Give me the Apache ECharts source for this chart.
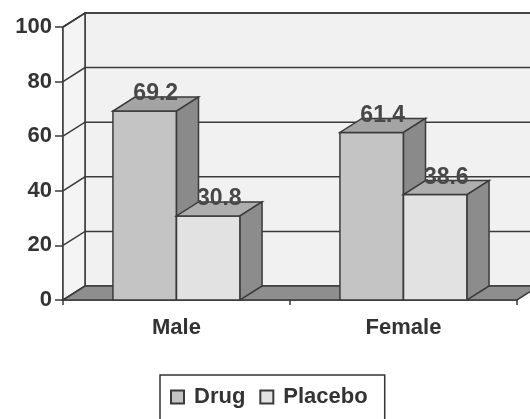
<!DOCTYPE html>
<html>
<head>
<meta charset="utf-8">
<script src="https://cdn.jsdelivr.net/npm/echarts@6/dist/echarts.min.js"></script>
<style>
  html, body { margin: 0; padding: 0; background: #fff; }
  #chart { width: 530px; height: 419px; }
</style>
</head>
<body>
<div id="chart"></div>
<script>
// data
var categories = ['Male', 'Female'];
var drugValues = [69.2, 61.4];
var placeboValues = [30.8, 38.6];
var yTicks = [0, 20, 40, 60, 80, 100];

// 3d depth of the walls and bars, pixels
var DX = 22, DY = -14;
var FONT = '"Liberation Sans", Arial, sans-serif';
var EDGE = '#3a3a3a';

var chart = echarts.init(document.getElementById('chart'));

// back wall, side wall, floor and grid lines
function renderWall(params, api) {
    var cs = params.coordSys;
    var left = cs.x, right = cs.x + cs.width;
    var y = api.coord([0, api.value(1)])[1];
    var children = [];
    if (params.dataIndex === 0) {
        var top = cs.y, bottom = cs.y + cs.height;
        children.push({
            type: 'polygon',
            shape: { points: [[left + DX, top + DY], [right + DX, top + DY], [right + DX, bottom + DY], [left + DX, bottom + DY]] },
            style: { fill: '#f1f1f1', stroke: EDGE, lineWidth: 1.5 }
        });
        children.push({
            type: 'polygon',
            shape: { points: [[left, top], [left + DX, top + DY], [left + DX, bottom + DY], [left, bottom]] },
            style: { fill: '#f4f4f4', stroke: EDGE, lineWidth: 1.5 }
        });
        children.push({
            type: 'polygon',
            shape: { points: [[left, bottom], [right, bottom], [right + DX, bottom + DY], [left + DX, bottom + DY]] },
            style: { fill: '#8e8e8e', stroke: EDGE, lineWidth: 1.5 }
        });
    } else {
        children.push({
            type: 'polyline',
            shape: { points: [[left, y], [left + DX, y + DY], [right + DX, y + DY]] },
            style: { fill: null, stroke: EDGE, lineWidth: 1.5 }
        });
    }
    return { type: 'group', children: children };
}

// one 3d bar: side = -1 left of the category centre, 0 right of it
function makeBarRenderer(side, front, topColor, sideColor) {
    return function (params, api) {
        var cat = api.value(0), val = api.value(1);
        var band = api.size([1, 0])[0];
        var w = band * 0.28;
        var base = api.coord([cat, 0]);
        var top = api.coord([cat, val]);
        var x0 = base[0] + side * w, x1 = x0 + w;
        var yb = base[1], yt = top[1];
        return {
            type: 'group',
            children: [
                {
                    type: 'rect',
                    shape: { x: x0, y: yt, width: w, height: yb - yt },
                    style: { fill: front, stroke: EDGE, lineWidth: 1.5 }
                },
                {
                    type: 'polygon',
                    shape: { points: [[x0, yt], [x1, yt], [x1 + DX, yt + DY], [x0 + DX, yt + DY]] },
                    style: { fill: topColor, stroke: EDGE, lineWidth: 1.5 }
                },
                {
                    type: 'polygon',
                    shape: { points: [[x1, yt], [x1 + DX, yt + DY], [x1 + DX, yb + DY], [x1, yb]] },
                    style: { fill: sideColor, stroke: EDGE, lineWidth: 1.5 }
                },
                {
                    type: 'text',
                    style: {
                        x: (x0 + x1) / 2 + DX / 2,
                        y: yt + DY / 2 - 10,
                        text: String(val),
                        align: 'center',
                        verticalAlign: 'middle',
                        fill: '#484848',
                        font: 'bold 23px ' + FONT
                    }
                }
            ]
        };
    };
}

chart.setOption({
    animation: false,
    backgroundColor: '#fff',
    grid: { left: 63, right: 13, top: 27, bottom: 119 },
    legend: {
        data: ['Drug', 'Placebo'],
        left: 160,
        top: 375,
        padding: [11, 17, 40, 10],
        borderColor: '#333',
        borderWidth: 1.5,
        backgroundColor: '#fff',
        icon: 'rect',
        itemWidth: 13,
        itemHeight: 13,
        itemGap: 14,
        textStyle: { fontFamily: FONT, fontWeight: 'bold', fontSize: 22, color: '#333', padding: [0, 0, 0, 5] }
    },
    xAxis: {
        type: 'category',
        data: categories,
        axisLine: { show: true, lineStyle: { color: EDGE, width: 1.5 } },
        axisTick: { show: true, length: 5, lineStyle: { color: EDGE, width: 1.5 } },
        axisLabel: { margin: 17, fontFamily: FONT, fontWeight: 'bold', fontSize: 22, color: '#333' },
        splitLine: { show: false }
    },
    yAxis: {
        type: 'value',
        min: 0,
        max: 100,
        interval: 20,
        axisLine: { show: true, lineStyle: { color: EDGE, width: 1.5 } },
        axisTick: { show: true, length: 8, lineStyle: { color: EDGE, width: 1.5 } },
        axisLabel: { margin: 11, fontFamily: FONT, fontWeight: 'bold', fontSize: 22, color: '#333' },
        splitLine: { show: false }
    },
    series: [
        {
            name: 'wall',
            type: 'custom',
            silent: true,
            z: 1,
            renderItem: renderWall,
            encode: { x: 0, y: 1 },
            data: yTicks.map(function (v) { return [0, v]; })
        },
        {
            name: 'Drug',
            type: 'custom',
            z: 2,
            itemStyle: { color: '#c4c4c4', borderColor: EDGE, borderWidth: 1.5 },
            renderItem: makeBarRenderer(-1, '#c4c4c4', '#a4a4a4', '#8a8a8a'),
            encode: { x: 0, y: 1 },
            data: drugValues.map(function (v, i) { return [i, v]; })
        },
        {
            name: 'Placebo',
            type: 'custom',
            z: 2,
            itemStyle: { color: '#e2e2e2', borderColor: EDGE, borderWidth: 1.5 },
            renderItem: makeBarRenderer(0, '#e2e2e2', '#aeaeae', '#8c8c8c'),
            encode: { x: 0, y: 1 },
            data: placeboValues.map(function (v, i) { return [i, v]; })
        }
    ]
});
</script>
</body>
</html>
